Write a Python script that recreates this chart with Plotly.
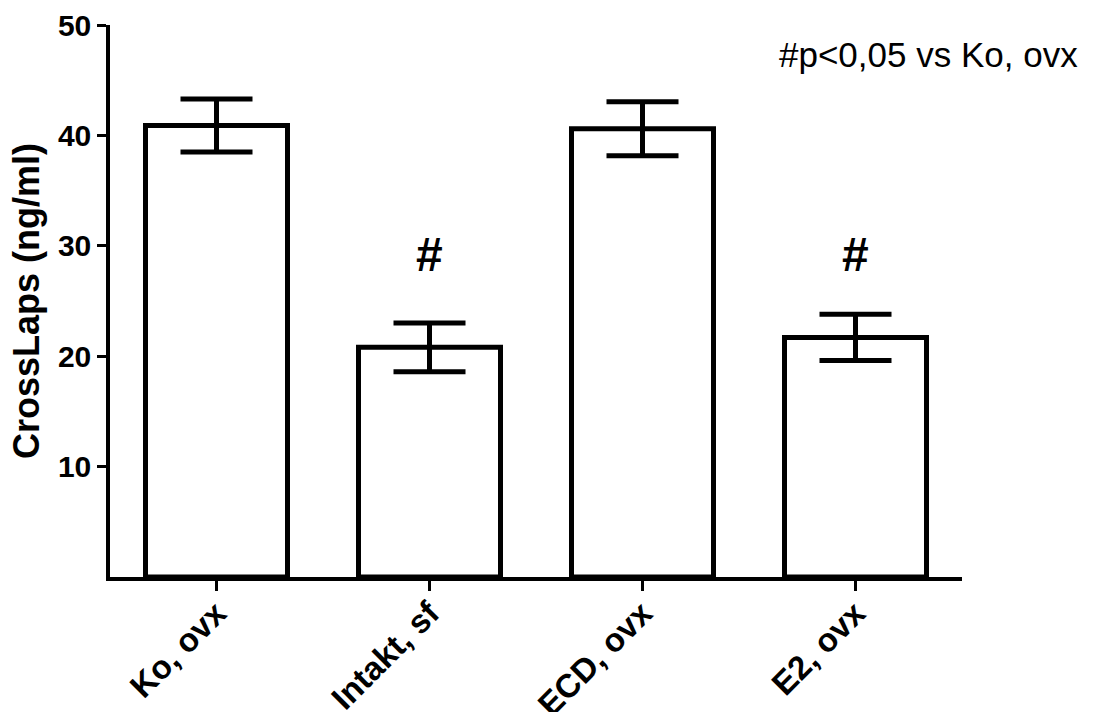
import plotly.graph_objects as go

categories = ["Ko, ovx", "Intakt, sf", "ECD, ovx", "E2, ovx"]
means = [40.9, 20.8, 40.6, 21.7]
errors = [2.4, 2.2, 2.45, 2.1]
y_ticks = [10, 20, 30, 40, 50]
sig_groups = ["Intakt, sf", "E2, ovx"]
sig_level = 29.2
note_text = "#p<0,05 vs Ko, ovx"

FONT = "Arial, Liberation Sans, sans-serif"

fig = go.Figure()
fig.add_trace(go.Bar(
    x=categories, y=means,
    marker=dict(color="white", line=dict(color="black", width=5)),
    error_y=dict(type="data", array=errors, visible=True,
                 color="black", thickness=5, width=36),
    showlegend=False, hoverinfo="skip",
))

for g in sig_groups:
    fig.add_annotation(x=g, y=sig_level, text="<b>#</b>", showarrow=False,
                       font=dict(family=FONT, size=48, color="black"),
                       xanchor="center", yanchor="middle")

fig.add_annotation(xref="paper", yref="paper", x=1.1385, y=0.9457,
                   text=note_text, showarrow=False,
                   font=dict(family=FONT, size=35, color="black"),
                   xanchor="right", yanchor="middle")

fig.update_layout(
    width=1093, height=712,
    margin=dict(l=110, r=131, t=25, b=135, autoexpand=False),
    paper_bgcolor="white", plot_bgcolor="white",
    bargap=1/3,
    font=dict(family=FONT, color="black"),
)
fig.update_xaxes(
    range=[-0.5, 3.5], showline=True, linecolor="black", linewidth=3.5,
    ticks="outside", ticklen=10, tickwidth=3, tickcolor="black",
    tickangle=-45, tickfont=dict(family=FONT, size=33, color="black"),
    tickvals=categories, ticktext=[f"<b>{c}</b>" for c in categories],
    ticklabelstandoff=-10,
    showgrid=False, zeroline=False, automargin=False,
)
fig.update_yaxes(
    range=[0, 50], showline=True, linecolor="black", linewidth=3.5,
    ticks="outside", ticklen=9, tickwidth=3, tickcolor="black",
    tickvals=y_ticks, ticktext=[f"<b>{v}</b>" for v in y_ticks],
    tickfont=dict(family=FONT, size=30, color="black"),
    title=dict(text="<b>CrossLaps (ng/ml)</b>", font=dict(family=FONT, size=36, color="black"), standoff=8),
    showgrid=False, zeroline=False, automargin=False,
)

fig.write_html("out.html", config={"displayModeBar": False},
               post_script="document.body.style.margin='0';document.body.style.padding='0';")
